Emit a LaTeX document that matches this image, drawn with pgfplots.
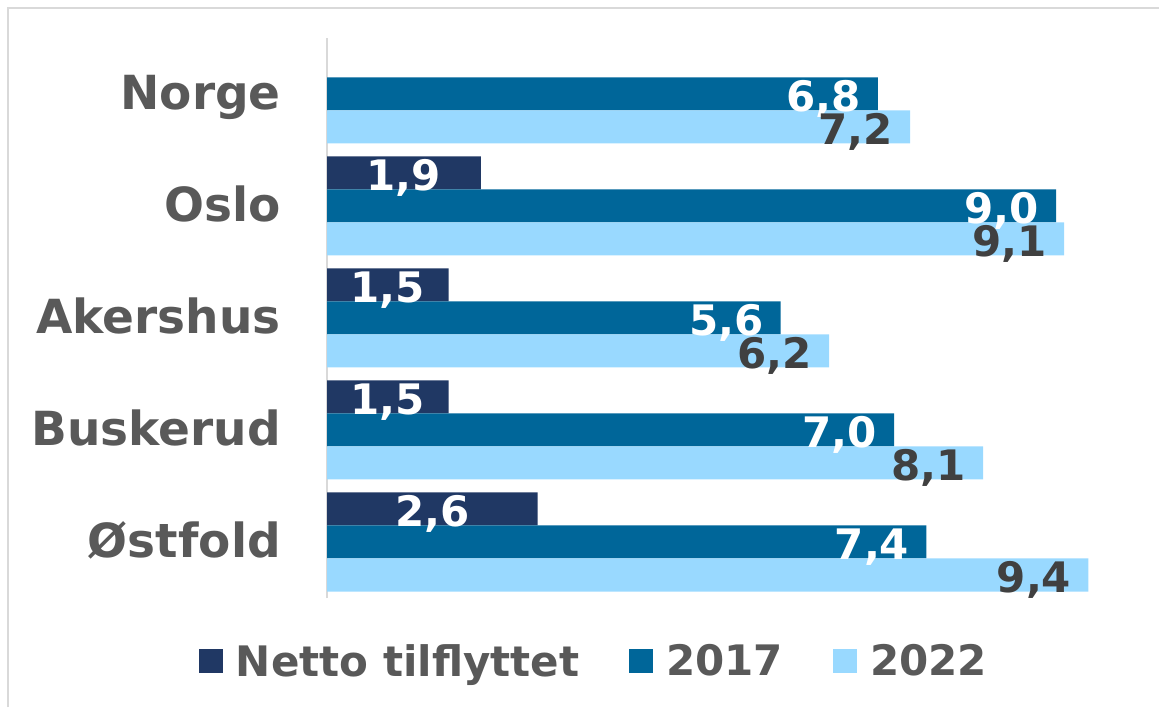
\documentclass[border=0pt]{standalone}
\usepackage{pgfplots}
\pgfplotsset{compat=1.18}
\usepackage{fontspec}
\setmainfont{DejaVu Sans}
\definecolor{cNet}{RGB}{32,56,100}
\definecolor{c17}{RGB}{0,102,153}
\definecolor{c22}{RGB}{153,217,255}
\definecolor{lbl}{RGB}{64,64,64}
\definecolor{txt}{RGB}{89,89,89}
\definecolor{framec}{RGB}{217,217,217}
\begin{document}
\begin{tikzpicture}[x=1pt,y=1pt]
\useasboundingbox (0,0) rectangle (1159,707);
\draw[framec, line width=1.5pt] (8,0) -- (8,699) -- (1159,699);
\begin{axis}[
 at={(327pt,109pt)}, anchor=south west,
 width=810pt, height=560pt, scale only axis,
 xbar, bar width=33pt,
 xmin=0, xmax=10, ymin=-0.5, ymax=4.5,
 axis x line=none, axis y line*=left,
 axis line style={framec, line width=2pt},
 ytick={0,1,2,3,4}, yticklabels={Østfold,Buskerud,Akershus,Oslo,Norge},
 major tick length=0pt,
 yticklabel style={font=\fontsize{47pt}{56pt}\selectfont\bfseries, text=txt, anchor=base east, inner sep=0pt, xshift=-46pt, yshift=-16pt},
 point meta=x,
 visualization depends on={rawx \as \rawx},
 nodes near coords={\pgfmathprintnumber[fixed,fixed zerofill,precision=1,use comma,assume math mode=true]{\pgfplotspointmeta}},
 every node near coord/.append style={font=\fontsize{42pt}{50pt}\selectfont\bfseries, inner sep=0pt, yshift=-17.5pt},
 legend columns=3,
 legend style={at={(0.3284,-0.1125)}, anchor=center, draw=none, fill=none,
   font=\fontsize{42pt}{50pt}\selectfont\bfseries, text=txt,
   nodes={inner sep=0pt}, column sep=13pt,
   /tikz/every even column/.append style={column sep=50pt}},
 legend image code/.code={\fill[#1] (0pt,-12pt) rectangle (24pt,12pt);},
]
\addplot[fill=cNet, draw=none, bar shift=33pt,
  every node near coord/.append style={text=white, anchor=base, xshift={-\rawx*40.5pt}}]
  coordinates {(2.6,0) (1.5,1) (1.5,2) (1.9,3)};
\addplot[fill=c17, draw=none, bar shift=0pt,
  every node near coord/.append style={text=white, anchor=base east, xshift=-17pt}]
  coordinates {(7.4,0) (7.0,1) (5.6,2) (9.0,3) (6.8,4)};
\addplot[fill=c22, draw=none, bar shift=-33pt,
  every node near coord/.append style={text=lbl, anchor=base east, xshift=-17pt}]
  coordinates {(9.4,0) (8.1,1) (6.2,2) (9.1,3) (7.2,4)};
\legend{Netto tilflyttet,2017,2022}
\end{axis}
\end{tikzpicture}
\end{document}
